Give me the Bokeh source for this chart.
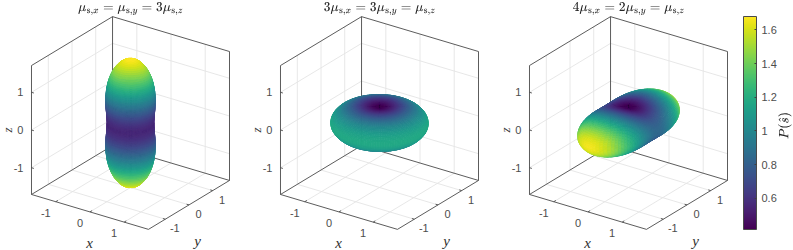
import numpy as np
from bokeh.embed import file_html
from bokeh.resources import INLINE
from bokeh.plotting import figure
from bokeh.models import Range1d, Label, ColorBar, LinearColorMapper, FixedTicker, ColumnDataSource
from bokeh.palettes import Viridis256
from bokeh.core.properties import value

# values: P(s) along the x, y and z axes of each panel
titles = [r"$$\mu_{\mathrm{s},x} = \mu_{\mathrm{s},y} = 3\mu_{\mathrm{s},z}$$",
          r"$$3\mu_{\mathrm{s},x} = 3\mu_{\mathrm{s},y} = \mu_{\mathrm{s},z}$$",
          r"$$4\mu_{\mathrm{s},x} = 2\mu_{\mathrm{s},y} = \mu_{\mathrm{s},z}$$"]
P_x = [0.56, 1.17, 0.84]
P_y = [0.56, 1.17, 1.66]
P_z = [1.68, 0.42, 0.42]
axis_limit = 1.71
ticks_3d = [-1, 0, 1]
tick_labels_3d = ["-1", "0", "1"]
color_low, color_high = 0.414, 1.68
color_ticks = [0.6, 0.8, 1, 1.2, 1.4, 1.6]
color_tick_labels = {0.6: "0.6", 0.8: "0.8", 1: "1", 1.2: "1.2", 1.4: "1.4", 1.6: "1.6"}

W, H = 793, 250
CENTERS = [130, 379, 628]
CY = 122.5
RIGHT = np.array([34.2, 23.7, 0.0])
DOWN = np.array([10.2, -14.3, -37.7])
VIEW = np.cross(RIGHT, -DOWN)

def project(cx, x, y, z):
    return (cx + RIGHT[0]*x + RIGHT[1]*y + RIGHT[2]*z,
            CY + DOWN[0]*x + DOWN[1]*y + DOWN[2]*z)

p = figure(width=W, height=H, output_backend="svg", toolbar_location=None,
           x_range=Range1d(0, W), y_range=Range1d(H, 0),
           min_border=0, outline_line_color=None, background_fill_color="white")
p.axis.visible = False
p.grid.visible = False

mapper = LinearColorMapper(palette=Viridis256, low=color_low, high=color_high)
L = axis_limit

grid_x0, grid_y0, grid_x1, grid_y1 = [], [], [], []
edge_x0, edge_y0, edge_x1, edge_y1 = [], [], [], []
lab_x, lab_y, lab_t, lab_a, lab_b = [], [], [], [], []

def add(store, cx, a, b):
    x0, y0 = project(cx, *a)
    x1, y1 = project(cx, *b)
    store[0].append(x0); store[1].append(y0); store[2].append(x1); store[3].append(y1)

G = (grid_x0, grid_y0, grid_x1, grid_y1)
E = (edge_x0, edge_y0, edge_x1, edge_y1)

for cx in CENTERS:
    for t in ticks_3d:
        add(G, cx, (t, -L, -L), (t, L, -L))
        add(G, cx, (-L, t, -L), (L, t, -L))
        add(G, cx, (-L, t, -L), (-L, t, L))
        add(G, cx, (-L, -L, t), (-L, L, t))
        add(G, cx, (t, L, -L), (t, L, L))
        add(G, cx, (-L, L, t), (L, L, t))
    box = [((-L,-L,-L),(L,-L,-L)), ((L,-L,-L),(L,L,-L)), ((L,L,-L),(-L,L,-L)), ((-L,L,-L),(-L,-L,-L)),
           ((-L,-L,L),(-L,L,L)), ((-L,L,L),(L,L,L)),
           ((-L,-L,-L),(-L,-L,L)), ((-L,L,-L),(-L,L,L)), ((L,L,-L),(L,L,L))]
    for a, b in box:
        add(E, cx, a, b)
    for t, tl in zip(ticks_3d, tick_labels_3d):
        add(E, cx, (t, -L, -L), (t, -L + 0.09, -L))
        add(E, cx, (L, t, -L), (L - 0.07, t, -L))
        add(E, cx, (-L, -L, t), (-L + 0.07, -L, t))
        xx, yy = project(cx, t, -L, -L)
        lab_x.append(xx - 10); lab_y.append(yy + 11); lab_t.append(tl); lab_a.append("center"); lab_b.append("middle")
        xx, yy = project(cx, L, t, -L)
        lab_x.append(xx + 9.5); lab_y.append(yy + 9); lab_t.append(tl); lab_a.append("center"); lab_b.append("middle")
        xx, yy = project(cx, -L, -L, t)
        lab_x.append(xx - 8); lab_y.append(yy); lab_t.append(tl); lab_a.append("right"); lab_b.append("middle")

p.segment(grid_x0, grid_y0, grid_x1, grid_y1, line_color="#e4e4e4", line_width=0.9)
p.segment(edge_x0, edge_y0, edge_x1, edge_y1, line_color="#4a4a4a", line_width=0.9)

# surfaces
N_T, N_P = 120, 120
theta = np.linspace(0, np.pi, N_T + 1)
phi = np.linspace(0, 2*np.pi, N_P + 1)
TH, PH = np.meshgrid(theta, phi, indexing="ij")
sx, sy, sz = np.sin(TH)*np.cos(PH), np.sin(TH)*np.sin(PH), np.cos(TH)

for cx, px, py, pz in zip(CENTERS, P_x, P_y, P_z):
    R = 1/(sx**2/px + sy**2/py + sz**2/pz)
    X, Y, Z = R*sx, R*sy, R*sz
    SX, SY = project(cx, X, Y, Z)
    xs, ys, cs, ds = [], [], [], []
    for i in range(N_T):
        for j in range(N_P):
            idx = [(i, j), (i+1, j), (i+1, j+1), (i, j+1)]
            Q = np.array([[X[k], Y[k], Z[k]] for k in idx])
            a = Q[2] - Q[0]; b = Q[3] - Q[1]
            if i == 0 or i == N_T - 1:
                n = Q.mean(axis=0)
            else:
                n = np.cross(a, b)
                if np.dot(n, Q.mean(axis=0)) < 0:
                    n = -n
            if np.dot(n, VIEW) <= 0:
                continue
            xs.append([SX[k] for k in idx]); ys.append([SY[k] for k in idx])
            cs.append(float(np.mean([R[k] for k in idx])))
            ds.append(float(np.dot(Q.mean(axis=0), VIEW)))
    order = np.argsort(ds)
    src = ColumnDataSource(dict(xs=[xs[o] for o in order], ys=[ys[o] for o in order], P=[cs[o] for o in order]))
    p.patches("xs", "ys", source=src,
              fill_color={"field": "P", "transform": mapper},
              line_color={"field": "P", "transform": mapper}, line_width=0.7)

FONT = value("Liberation Sans")
SERIF = value("Liberation Serif")
src_l = ColumnDataSource(dict(x=lab_x, y=lab_y, t=lab_t, a=lab_a, b=lab_b))
p.text("x", "y", "t", source=src_l, text_font=FONT, text_font_size="11px",
       text_align="a", text_baseline="b", text_color="#4d4d4d")

for cx, t in zip(CENTERS, titles):
    p.add_layout(Label(x=cx, y=14.5, text=t, text_align="center", text_font_size="10.25px", text_color="#262626"))

ax_x, ax_y, ax_t = [], [], []
for cx in CENTERS:
    ax_x += [cx - 41, cx + 67]
    ax_y += [250, 248]
    ax_t += ["x", "y"]
p.text(ax_x, ax_y, text=ax_t, text_font=SERIF, text_font_style="italic",
       text_font_size="15px", text_align="center", text_baseline="bottom", text_color="#303030")
p.text([cx - 123 for cx in CENTERS], [129.5]*3, text=["z"]*3, angle=[np.pi/2]*3, text_font=SERIF,
       text_font_style="italic", text_font_size="13px", text_align="center", text_baseline="middle",
       text_color="#303030")

cb = ColorBar(color_mapper=mapper, ticker=FixedTicker(ticks=color_ticks),
              major_label_overrides=color_tick_labels,
              width=13, height=229-16,
              location=(743, H-229),
              padding=0, margin=0, background_fill_color=None, background_fill_alpha=0,
              major_tick_in=2, major_tick_out=0, minor_tick_in=0, minor_tick_out=0,
              major_tick_line_color="#404040", bar_line_color="#4a4a4a", bar_line_width=1,
              label_standoff=5,
              major_label_text_font="Liberation Sans", major_label_text_font_size="11px",
              major_label_text_color="#4d4d4d")
p.add_layout(cb)

p.add_layout(Label(x=784, y=125, text=r"$$P(\hat{s})$$", angle=90, angle_units="deg",
                   text_align="center", text_baseline="middle", text_font_size="10px", text_color="#262626"))

open("out.html", "w").write(file_html(p, INLINE))
